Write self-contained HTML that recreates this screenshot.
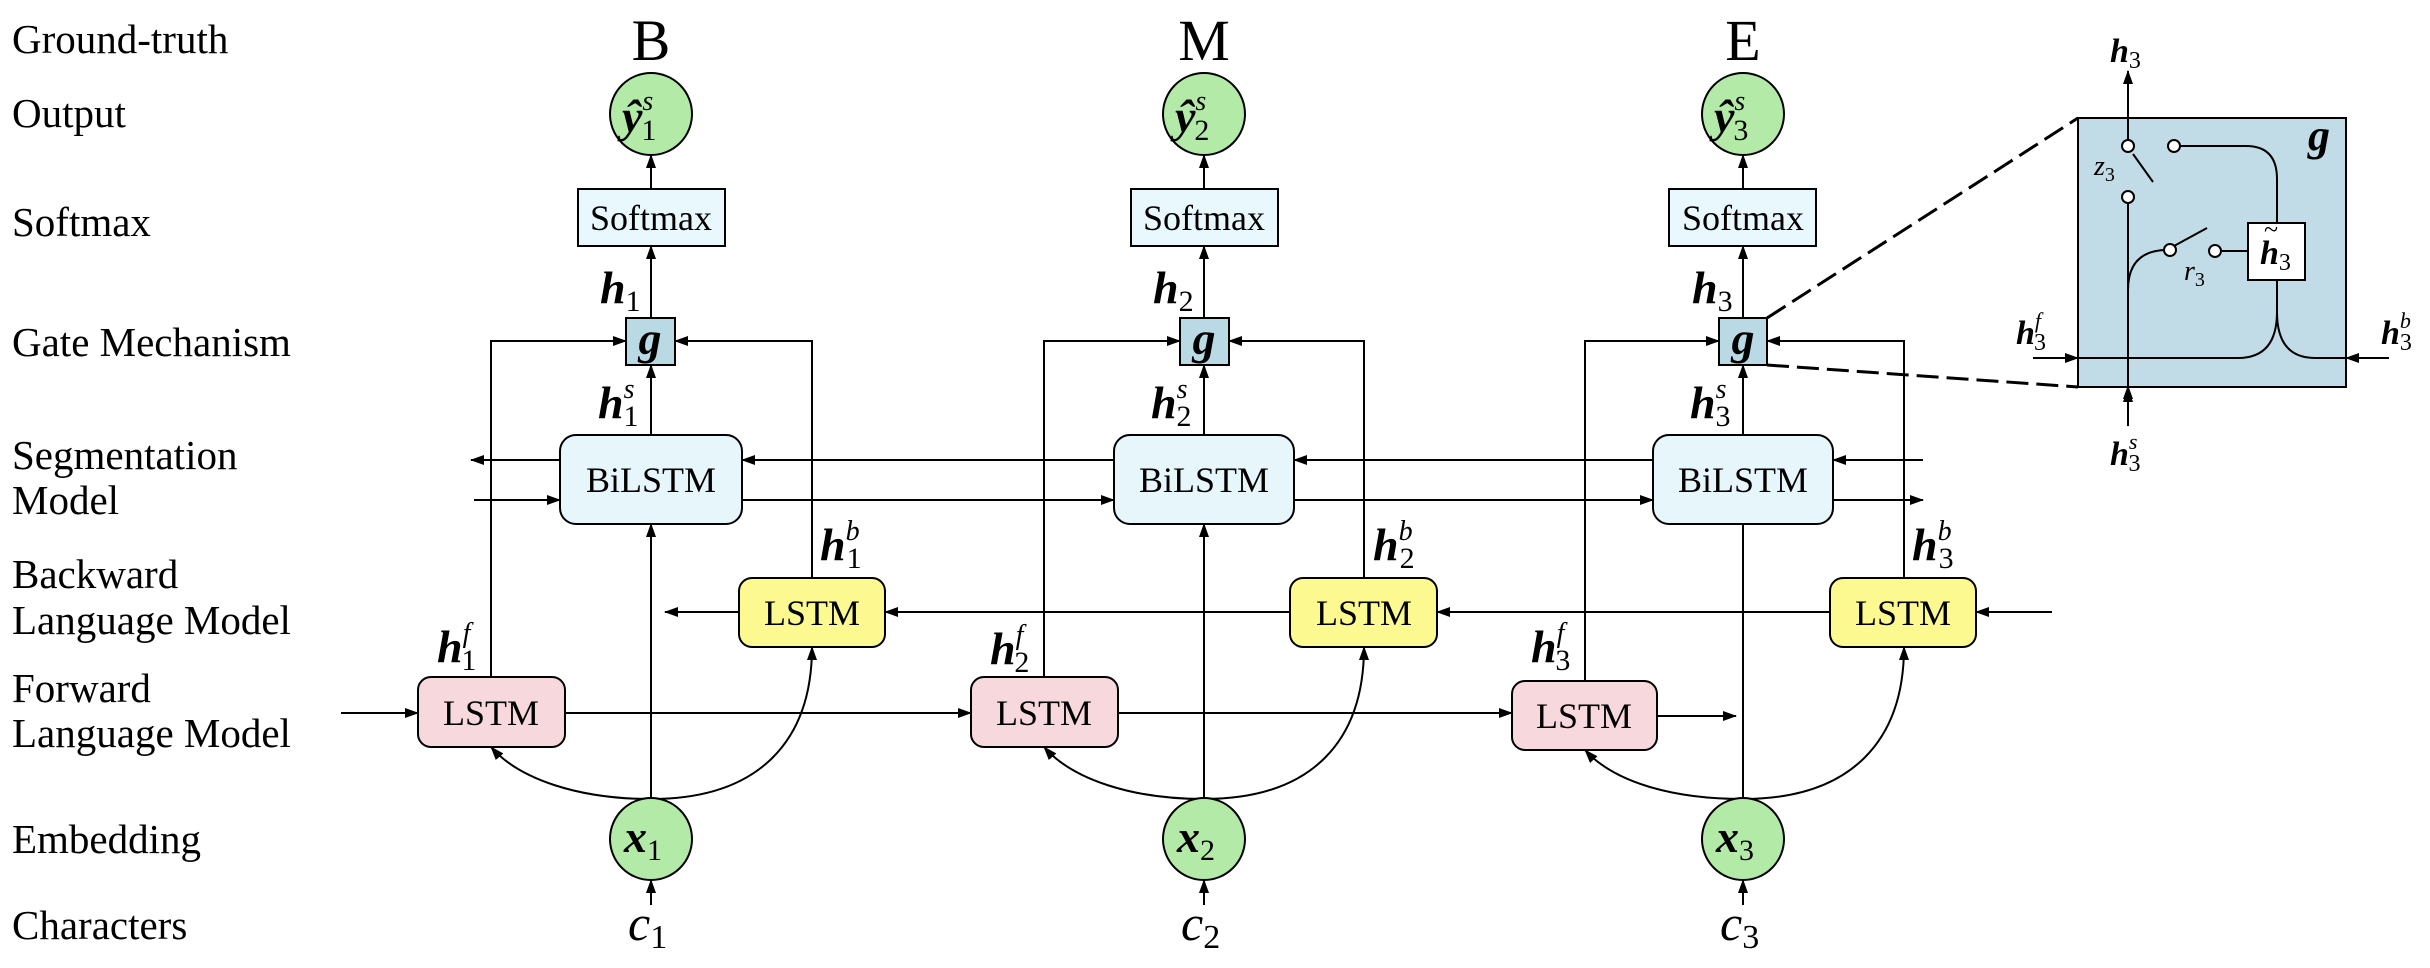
<!DOCTYPE html>
<html><head><meta charset="utf-8"><style>
html,body{margin:0;padding:0;background:#fff;}
svg{display:block;}
text{font-family:"Liberation Serif",serif;fill:#000;}
.lab{font-size:41px;}
.box{font-size:36px;}
.m{font-size:46px;font-weight:bold;font-style:italic;}
.sb{font-size:30px;font-weight:normal;font-style:normal;}
.sp{font-size:28px;font-style:italic;font-weight:normal;}
</style></head><body>
<svg width="2430" height="968" viewBox="0 0 2430 968" xmlns="http://www.w3.org/2000/svg">
<defs>
<marker id="a" markerWidth="14" markerHeight="10" refX="13" refY="5" orient="auto" markerUnits="userSpaceOnUse">
<path d="M0,0 L14,5 L0,10 z" fill="#000"/></marker>
</defs>
<g class="lab">
<text x="12" y="53">Ground-truth</text>
<text x="12" y="127">Output</text>
<text x="12" y="236">Softmax</text>
<text x="12" y="356">Gate Mechanism</text>
<text x="12" y="469">Segmentation</text>
<text x="12" y="514">Model</text>
<text x="12" y="588">Backward</text>
<text x="12" y="634">Language Model</text>
<text x="12" y="702">Forward</text>
<text x="12" y="747">Language Model</text>
<text x="12" y="853">Embedding</text>
<text x="12" y="939">Characters</text>
</g>
<g stroke="#000" stroke-width="2" fill="none">
<!-- horizontal seg -->
<line x1="1114" y1="460" x2="742" y2="460" marker-end="url(#a)"/>
<line x1="1653" y1="460" x2="1294" y2="460" marker-end="url(#a)"/>
<line x1="1923" y1="460" x2="1833" y2="460" marker-end="url(#a)"/>
<line x1="560" y1="460" x2="471" y2="460" marker-end="url(#a)"/>
<line x1="474" y1="500" x2="560" y2="500" marker-end="url(#a)"/>
<line x1="742" y1="500" x2="1114" y2="500" marker-end="url(#a)"/>
<line x1="1294" y1="500" x2="1653" y2="500" marker-end="url(#a)"/>
<line x1="1833" y1="500" x2="1923" y2="500" marker-end="url(#a)"/>
<!-- backward -->
<line x1="2052" y1="612" x2="1976" y2="612" marker-end="url(#a)"/>
<line x1="1830" y1="612" x2="1437" y2="612" marker-end="url(#a)"/>
<line x1="1290" y1="612" x2="885" y2="612" marker-end="url(#a)"/>
<line x1="739" y1="612" x2="665" y2="612" marker-end="url(#a)"/>
<!-- forward -->
<line x1="341" y1="713" x2="418" y2="713" marker-end="url(#a)"/>
<line x1="565" y1="713" x2="971" y2="713" marker-end="url(#a)"/>
<line x1="1118" y1="713" x2="1512" y2="713" marker-end="url(#a)"/>
<line x1="1657" y1="716" x2="1736" y2="716" marker-end="url(#a)"/>
<!-- columns -->
<line x1="651" y1="189" x2="651" y2="155" marker-end="url(#a)"/>
<line x1="651" y1="318" x2="651" y2="246" marker-end="url(#a)"/>
<line x1="651" y1="435" x2="651" y2="365" marker-end="url(#a)"/>
<line x1="651" y1="798" x2="651" y2="524" marker-end="url(#a)"/>
<line x1="651" y1="905" x2="651" y2="880" marker-end="url(#a)"/>
<path d="M491,677 V341 H626" marker-end="url(#a)"/>
<path d="M812,578 V341 H675" marker-end="url(#a)"/>
<path d="M651,799 C580,799 520,780 491,747" marker-end="url(#a)"/>
<path d="M651,799 C760,799 812,740 812,647" marker-end="url(#a)"/>

<line x1="1204" y1="189" x2="1204" y2="155" marker-end="url(#a)"/>
<line x1="1204" y1="318" x2="1204" y2="246" marker-end="url(#a)"/>
<line x1="1204" y1="435" x2="1204" y2="365" marker-end="url(#a)"/>
<line x1="1204" y1="798" x2="1204" y2="524" marker-end="url(#a)"/>
<line x1="1204" y1="905" x2="1204" y2="880" marker-end="url(#a)"/>
<path d="M1044,677 V341 H1180" marker-end="url(#a)"/>
<path d="M1364,578 V341 H1229" marker-end="url(#a)"/>
<path d="M1204,799 C1133,799 1073,780 1044,747" marker-end="url(#a)"/>
<path d="M1204,799 C1313,799 1364,740 1364,647" marker-end="url(#a)"/>

<line x1="1743" y1="189" x2="1743" y2="155" marker-end="url(#a)"/>
<line x1="1743" y1="318" x2="1743" y2="246" marker-end="url(#a)"/>
<line x1="1743" y1="435" x2="1743" y2="365" marker-end="url(#a)"/>
<line x1="1743" y1="798" x2="1743" y2="524"/>
<line x1="1743" y1="905" x2="1743" y2="880" marker-end="url(#a)"/>
<path d="M1585,681 V341 H1719" marker-end="url(#a)"/>
<path d="M1904,578 V341 H1767" marker-end="url(#a)"/>
<path d="M1743,799 C1672,799 1614,782 1585,750" marker-end="url(#a)"/>
<path d="M1743,799 C1852,799 1904,740 1904,647" marker-end="url(#a)"/>
</g>
<!-- shapes -->
<g stroke="#000" stroke-width="2">
<ellipse cx="651" cy="114" rx="41" ry="41" fill="#b3eaa8"/>
<ellipse cx="1204" cy="114" rx="41" ry="41" fill="#b3eaa8"/>
<ellipse cx="1743" cy="114" rx="41" ry="41" fill="#b3eaa8"/>
<ellipse cx="651" cy="839" rx="41" ry="41" fill="#b3eaa8"/>
<ellipse cx="1204" cy="839" rx="41" ry="41" fill="#b3eaa8"/>
<ellipse cx="1743" cy="839" rx="41" ry="41" fill="#b3eaa8"/>
<rect x="578" y="189" width="147" height="57" fill="#e8f8fc"/>
<rect x="1131" y="189" width="147" height="57" fill="#e8f8fc"/>
<rect x="1669" y="189" width="147" height="57" fill="#e8f8fc"/>
<rect x="626" y="318" width="49" height="47" fill="#b9d9e4"/>
<rect x="1180" y="318" width="49" height="47" fill="#b9d9e4"/>
<rect x="1719" y="318" width="48" height="47" fill="#b9d9e4"/>
<rect x="560" y="435" width="182" height="89" rx="16" fill="#e6f6fb"/>
<rect x="1114" y="435" width="180" height="89" rx="16" fill="#e6f6fb"/>
<rect x="1653" y="435" width="180" height="89" rx="16" fill="#e6f6fb"/>
<rect x="739" y="578" width="146" height="69" rx="13" fill="#fbf98f"/>
<rect x="1290" y="578" width="147" height="69" rx="13" fill="#fbf98f"/>
<rect x="1830" y="578" width="146" height="69" rx="13" fill="#fbf98f"/>
<rect x="418" y="677" width="147" height="70" rx="13" fill="#f7d8dc"/>
<rect x="971" y="677" width="147" height="70" rx="13" fill="#f7d8dc"/>
<rect x="1512" y="681" width="145" height="69" rx="13" fill="#f7d8dc"/>
</g>
<g class="box" text-anchor="middle">
<text x="651" y="230">Softmax</text><text x="1204" y="230">Softmax</text><text x="1743" y="230">Softmax</text>
<text x="651" y="492">BiLSTM</text><text x="1204" y="492">BiLSTM</text><text x="1743" y="492">BiLSTM</text>
<text x="812" y="625">LSTM</text><text x="1364" y="625">LSTM</text><text x="1903" y="625">LSTM</text>
<text x="491" y="725">LSTM</text><text x="1044" y="725">LSTM</text><text x="1584" y="728">LSTM</text>
</g>
<g style="font-size:58px" text-anchor="middle">
<text x="651" y="60">B</text><text x="1204" y="60">M</text><text x="1743" y="60">E</text>
</g>
<!-- g labels -->
<g class="m" text-anchor="middle">
<text x="650" y="354">g</text><text x="1204" y="354">g</text><text x="1743" y="354">g</text>
</g>
<!-- y hats -->
<g class="m">
<text x="622" y="132">ŷ<tspan class="sp" dy="-22">s</tspan><tspan class="sb" dx="-12" dy="30">1</tspan></text>
<text x="1175" y="132">ŷ<tspan class="sp" dy="-22">s</tspan><tspan class="sb" dx="-12" dy="30">2</tspan></text>
<text x="1714" y="132">ŷ<tspan class="sp" dy="-22">s</tspan><tspan class="sb" dx="-12" dy="30">3</tspan></text>
<text x="624" y="852">x<tspan class="sb" dy="8">1</tspan></text>
<text x="1177" y="852">x<tspan class="sb" dy="8">2</tspan></text>
<text x="1716" y="852">x<tspan class="sb" dy="8">3</tspan></text>
</g>
<g style="font-size:50px;font-style:italic">
<text x="628" y="940">c<tspan style="font-style:normal;font-size:34px" dy="8">1</tspan></text>
<text x="1181" y="940">c<tspan style="font-style:normal;font-size:34px" dy="8">2</tspan></text>
<text x="1720" y="940">c<tspan style="font-style:normal;font-size:34px" dy="8">3</tspan></text>
</g>
<!-- h labels -->
<g class="m">
<text x="600" y="303">h<tspan class="sb" dy="8">1</tspan></text>
<text x="1153" y="303">h<tspan class="sb" dy="8">2</tspan></text>
<text x="1692" y="303">h<tspan class="sb" dy="8">3</tspan></text>
<text x="598" y="418">h<tspan class="sp" dy="-20">s</tspan><tspan class="sb" dx="-11" dy="28">1</tspan></text>
<text x="1151" y="418">h<tspan class="sp" dy="-20">s</tspan><tspan class="sb" dx="-11" dy="28">2</tspan></text>
<text x="1690" y="418">h<tspan class="sp" dy="-20">s</tspan><tspan class="sb" dx="-11" dy="28">3</tspan></text>
<text x="437" y="662">h<tspan class="sp" dy="-20">f</tspan><tspan class="sb" dx="-9" dy="28">1</tspan></text>
<text x="990" y="664">h<tspan class="sp" dy="-20">f</tspan><tspan class="sb" dx="-9" dy="28">2</tspan></text>
<text x="1531" y="662">h<tspan class="sp" dy="-20">f</tspan><tspan class="sb" dx="-9" dy="28">3</tspan></text>
<text x="820" y="560">h<tspan class="sp" dy="-20">b</tspan><tspan class="sb" dx="-13" dy="28">1</tspan></text>
<text x="1373" y="560">h<tspan class="sp" dy="-20">b</tspan><tspan class="sb" dx="-13" dy="28">2</tspan></text>
<text x="1912" y="560">h<tspan class="sp" dy="-20">b</tspan><tspan class="sb" dx="-13" dy="28">3</tspan></text>
</g>
<!-- inset -->
<g stroke="#000" stroke-width="3" stroke-dasharray="22,8" fill="none">
<line x1="1767" y1="318" x2="2078" y2="118"/>
<line x1="1767" y1="365" x2="2078" y2="387"/>
</g>
<rect x="2078" y="118" width="268" height="269" fill="#c1dce6" stroke="#000" stroke-width="2"/>
<g stroke="#000" stroke-width="2" fill="none">
<line x1="2128" y1="140" x2="2128" y2="71" marker-end="url(#a)"/>
<line x1="2128" y1="426" x2="2128" y2="203"/>
<line x1="2128" y1="387" x2="2128" y2="386" marker-end="url(#a)"/>
<line x1="2133" y1="154" x2="2153" y2="182"/>
<path d="M2180,146 H2246 Q2277,146 2277,179 V223"/>
<rect x="2248" y="223" width="57" height="57" fill="#fff"/>
<path d="M2277,280 V312 Q2277,358 2238,358 H2078"/>
<path d="M2277,312 Q2277,358 2315,358 H2346"/>
<line x1="2033" y1="358" x2="2078" y2="358" marker-end="url(#a)"/>
<line x1="2389" y1="358" x2="2346" y2="358" marker-end="url(#a)"/>
<path d="M2128,290 Q2128,252 2164,250"/>
<line x1="2174" y1="246" x2="2207" y2="228"/>
<line x1="2221" y1="251" x2="2248" y2="251"/>
<circle cx="2128" cy="146" r="6" fill="#fff"/>
<circle cx="2128" cy="197" r="6" fill="#fff"/>
<circle cx="2174" cy="146" r="6" fill="#fff"/>
<circle cx="2170" cy="250" r="6" fill="#fff"/>
<circle cx="2215" cy="251" r="6" fill="#fff"/>
</g>
<line x1="2128" y1="426" x2="2128" y2="389" stroke="#000" stroke-width="2" marker-end="url(#a)"/>
<g class="m" style="font-size:34px">
<text x="2110" y="62">h<tspan class="sb" style="font-size:24px" dy="6">3</tspan></text>
<text x="2110" y="465">h<tspan class="sp" style="font-size:22px" dy="-16">s</tspan><tspan class="sb" style="font-size:24px" dx="-9" dy="22">3</tspan></text>
<text x="2016" y="344">h<tspan class="sp" style="font-size:22px" dy="-16">f</tspan><tspan class="sb" style="font-size:24px" dx="-7" dy="22">3</tspan></text>
<text x="2381" y="344">h<tspan class="sp" style="font-size:22px" dy="-16">b</tspan><tspan class="sb" style="font-size:24px" dx="-11" dy="22">3</tspan></text>
<text x="2260" y="264">h<tspan class="sb" style="font-size:24px" dy="6">3</tspan></text>
<text x="2264" y="238" class="sb" style="font-size:26px">~</text>
<text x="2308" y="150" style="font-size:44px">g</text>
</g>
<g style="font-size:28px;font-style:italic">
<text x="2094" y="175">z<tspan style="font-style:normal;font-size:20px" dy="6">3</tspan></text>
<text x="2184" y="280">r<tspan style="font-style:normal;font-size:20px" dy="6">3</tspan></text>
</g>
</svg>
</body></html>
